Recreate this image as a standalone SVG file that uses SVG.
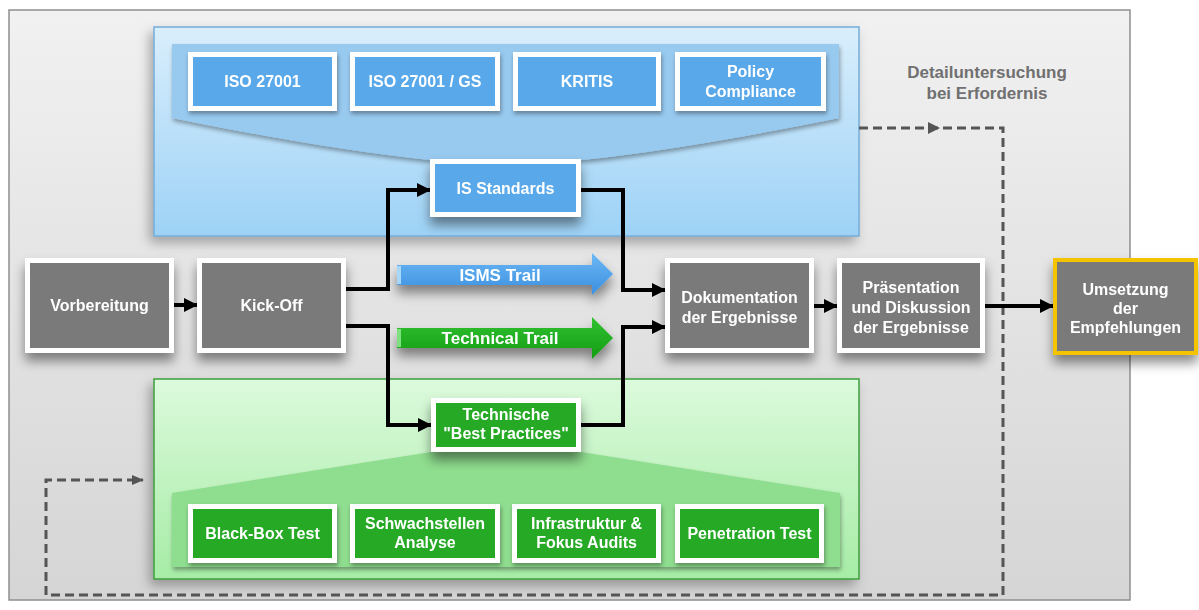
<svg xmlns="http://www.w3.org/2000/svg" width="1199" height="610" viewBox="0 0 1199 610">
<defs>
  <linearGradient id="gPanel" x1="0" y1="0" x2="0" y2="1">
    <stop offset="0" stop-color="#f1f1f1"/>
    <stop offset="1" stop-color="#d5d5d5"/>
  </linearGradient>
  <linearGradient id="gBlue" x1="0" y1="0" x2="0" y2="1">
    <stop offset="0" stop-color="#d9eefc"/>
    <stop offset="1" stop-color="#9dd2f6"/>
  </linearGradient>
  <linearGradient id="gGreen" x1="0" y1="0" x2="0" y2="1">
    <stop offset="0" stop-color="#dcfadc"/>
    <stop offset="1" stop-color="#a6eca6"/>
  </linearGradient>
  <linearGradient id="gBlueArrow" x1="0" y1="0" x2="0" y2="1">
    <stop offset="0" stop-color="#6cb8f5"/>
    <stop offset="1" stop-color="#3b8fe0"/>
  </linearGradient>
  <linearGradient id="gGreenArrow" x1="0" y1="0" x2="0" y2="1">
    <stop offset="0" stop-color="#32c232"/>
    <stop offset="1" stop-color="#129c12"/>
  </linearGradient>
  <filter id="shadow" x="-20%" y="-20%" width="150%" height="160%">
    <feDropShadow dx="0" dy="8" stdDeviation="6" flood-color="#000" flood-opacity="0.45"/>
  </filter>
  <filter id="shadowSoft" x="-10%" y="-10%" width="130%" height="140%">
    <feDropShadow dx="-4" dy="6" stdDeviation="6" flood-color="#000" flood-opacity="0.3"/>
  </filter>
  <filter id="shadowSmall" x="-20%" y="-20%" width="150%" height="170%">
    <feDropShadow dx="1" dy="3" stdDeviation="2" flood-color="#000" flood-opacity="0.35"/>
  </filter>
  <marker id="ah" markerUnits="userSpaceOnUse" markerWidth="14" markerHeight="14" refX="13" refY="7" orient="auto">
    <path d="M0,0 L14,7 L0,14 Z" fill="#000"/>
  </marker>
  <marker id="ahd" markerUnits="userSpaceOnUse" markerWidth="12" markerHeight="12" refX="11" refY="6" orient="auto">
    <path d="M0,1 L12,6 L0,11 Z" fill="#555"/>
  </marker>
  <style>
    .txt{font-family:"Liberation Sans",Arial,sans-serif;font-weight:bold;font-size:16px;fill:#fff;text-anchor:middle}
    .gray{fill:#7a7a7a;stroke:#fff;stroke-width:5}
    .blue{fill:#58a8ea;stroke:#fff;stroke-width:5}
    .green{fill:#27aa27;stroke:#fff;stroke-width:5}
    .conn{fill:none;stroke:#000;stroke-width:4}
    .dash{fill:none;stroke:#555;stroke-width:3;stroke-dasharray:9 5}
    .trail{font-family:"Liberation Sans",Arial,sans-serif;font-weight:bold;font-size:17px;fill:#fff;text-anchor:middle}
    .note{font-family:"Liberation Sans",Arial,sans-serif;font-weight:bold;font-size:17px;fill:#707070;text-anchor:middle}
  </style>
</defs>

<!-- background panel -->
<rect x="9" y="10" width="1121" height="590" fill="url(#gPanel)" stroke="#8f8f8f" stroke-width="1.5"/>

<!-- blue panel -->
<g id="is-panel">
  <rect x="154" y="27" width="705" height="209" fill="url(#gBlue)" stroke="#74acd8" stroke-width="1.5" filter="url(#shadowSoft)"/>
  <path d="M172,44 H839 V118 Q680,150 581,160 H430 Q330,150 172,118 Z" fill="#98c9ef" filter="url(#shadowSmall)"/>
</g>

<!-- green panel -->
<g id="tech-panel">
  <rect x="154" y="379" width="705" height="200" fill="url(#gGreen)" stroke="#3d9f3d" stroke-width="1.5" filter="url(#shadowSoft)"/>
  <path d="M172,567 V493 L431,452 H581 L840,493 V567 Z" fill="#8fdd8f" filter="url(#shadowSmall)"/>
</g>

<text class="note" x="987" y="78">Detailuntersuchung</text>
<text class="note" x="987" y="99">bei Erfordernis</text>

<!-- connectors -->
<g id="connectors">
  <path class="dash" d="M859,128 H1003 V595 H46 V480 H143" marker-end="url(#ahd)"/>
  <path d="M928,122 L940,128 L928,134 Z" fill="#555"/>
  <line class="conn" x1="174" y1="305" x2="197" y2="305" marker-end="url(#ah)"/>
  <path class="conn" d="M346,289 H388 V190 H430" marker-end="url(#ah)"/>
  <path class="conn" d="M346,326 H388 V425 H431" marker-end="url(#ah)"/>
  <path class="conn" d="M581,190 H623 V290 H665" marker-end="url(#ah)"/>
  <path class="conn" d="M581,425 H623 V327 H665" marker-end="url(#ah)"/>
  <line class="conn" x1="814" y1="306" x2="837" y2="306" marker-end="url(#ah)"/>
  <line class="conn" x1="985" y1="306" x2="1053" y2="306" marker-end="url(#ah)"/>
</g>

<!-- trail arrows -->
<g id="isms-trail" filter="url(#shadow)">
  <path d="M397,265 H592 V253 L613,274 L592,295 V285 H397 Z" fill="url(#gBlueArrow)"/>
  <rect x="397" y="266" width="4" height="18" fill="#a9d7fa"/>
  <text class="trail" x="500" y="281">ISMS Trail</text>
</g>
<g id="technical-trail" filter="url(#shadow)">
  <path d="M397,328 H592 V317 L613,338 L592,359 V348 H397 Z" fill="url(#gGreenArrow)"/>
  <rect x="397" y="329" width="4" height="18" fill="#7ee07e"/>
  <text class="trail" x="500" y="344">Technical Trail</text>
</g>

<!-- blue standard boxes -->
<g id="iso27001" filter="url(#shadowSmall)">
  <rect class="blue" x="190.5" y="54.5" width="144" height="54"/>
  <text class="txt" x="262.5" y="87">ISO 27001</text>
</g>
<g id="iso27001gs" filter="url(#shadowSmall)">
  <rect class="blue" x="352.5" y="54.5" width="145" height="54"/>
  <text class="txt" x="425" y="87">ISO 27001 / GS</text>
</g>
<g id="kritis" filter="url(#shadowSmall)">
  <rect class="blue" x="515.5" y="54.5" width="143" height="54"/>
  <text class="txt" x="587" y="87">KRITIS</text>
</g>
<g id="policy" filter="url(#shadowSmall)">
  <rect class="blue" x="677.5" y="54.5" width="146" height="54"/>
  <text class="txt" x="750.5" y="77">Policy</text>
  <text class="txt" x="750.5" y="97">Compliance</text>
</g>
<g id="is-standards" filter="url(#shadow)">
  <rect class="blue" x="432.5" y="161.5" width="146" height="53"/>
  <text class="txt" x="505.5" y="194">IS Standards</text>
</g>

<!-- gray process nodes -->
<g id="vorbereitung" filter="url(#shadow)">
  <rect class="gray" x="27.5" y="260.5" width="144" height="90"/>
  <text class="txt" x="99.5" y="311">Vorbereitung</text>
</g>
<g id="kickoff" filter="url(#shadow)">
  <rect class="gray" x="199.5" y="260.5" width="144" height="90"/>
  <text class="txt" x="271.5" y="311">Kick-Off</text>
</g>
<g id="dokumentation" filter="url(#shadow)">
  <rect class="gray" x="667.5" y="260.5" width="144" height="90"/>
  <text class="txt" x="739.5" y="303">Dokumentation</text>
  <text class="txt" x="739.5" y="323">der Ergebnisse</text>
</g>
<g id="praesentation" filter="url(#shadow)">
  <rect class="gray" x="839.5" y="260.5" width="143" height="90"/>
  <text class="txt" x="911" y="293">Präsentation</text>
  <text class="txt" x="911" y="313">und Diskussion</text>
  <text class="txt" x="911" y="333">der  Ergebnisse</text>
</g>
<g id="umsetzung" filter="url(#shadow)">
  <rect x="1055" y="260" width="141" height="93" fill="#7a7a7a" stroke="#f5c400" stroke-width="4"/>
  <text class="txt" x="1125.5" y="295">Umsetzung</text>
  <text class="txt" x="1125.5" y="314">der</text>
  <text class="txt" x="1125.5" y="333">Empfehlungen</text>
</g>

<!-- green technical boxes -->
<g id="best-practices" filter="url(#shadow)">
  <rect class="green" x="433.5" y="400.5" width="145" height="49"/>
  <text class="txt" x="506" y="420">Technische</text>
  <text class="txt" x="506" y="439">"Best Practices"</text>
</g>
<g id="blackbox" filter="url(#shadowSmall)">
  <rect class="green" x="190.5" y="506.5" width="144" height="54"/>
  <text class="txt" x="262.5" y="539">Black-Box Test</text>
</g>
<g id="schwachstellen" filter="url(#shadowSmall)">
  <rect class="green" x="352.5" y="506.5" width="145" height="54"/>
  <text class="txt" x="425" y="529">Schwachstellen</text>
  <text class="txt" x="425" y="548">Analyse</text>
</g>
<g id="infrastruktur" filter="url(#shadowSmall)">
  <rect class="green" x="514.5" y="506.5" width="144" height="54"/>
  <text class="txt" x="586.5" y="529">Infrastruktur &amp;</text>
  <text class="txt" x="586.5" y="548">Fokus Audits</text>
</g>
<g id="penetration" filter="url(#shadowSmall)">
  <rect class="green" x="677.5" y="506.5" width="144" height="54"/>
  <text class="txt" x="749.5" y="539">Penetration Test</text>
</g>
</svg>
